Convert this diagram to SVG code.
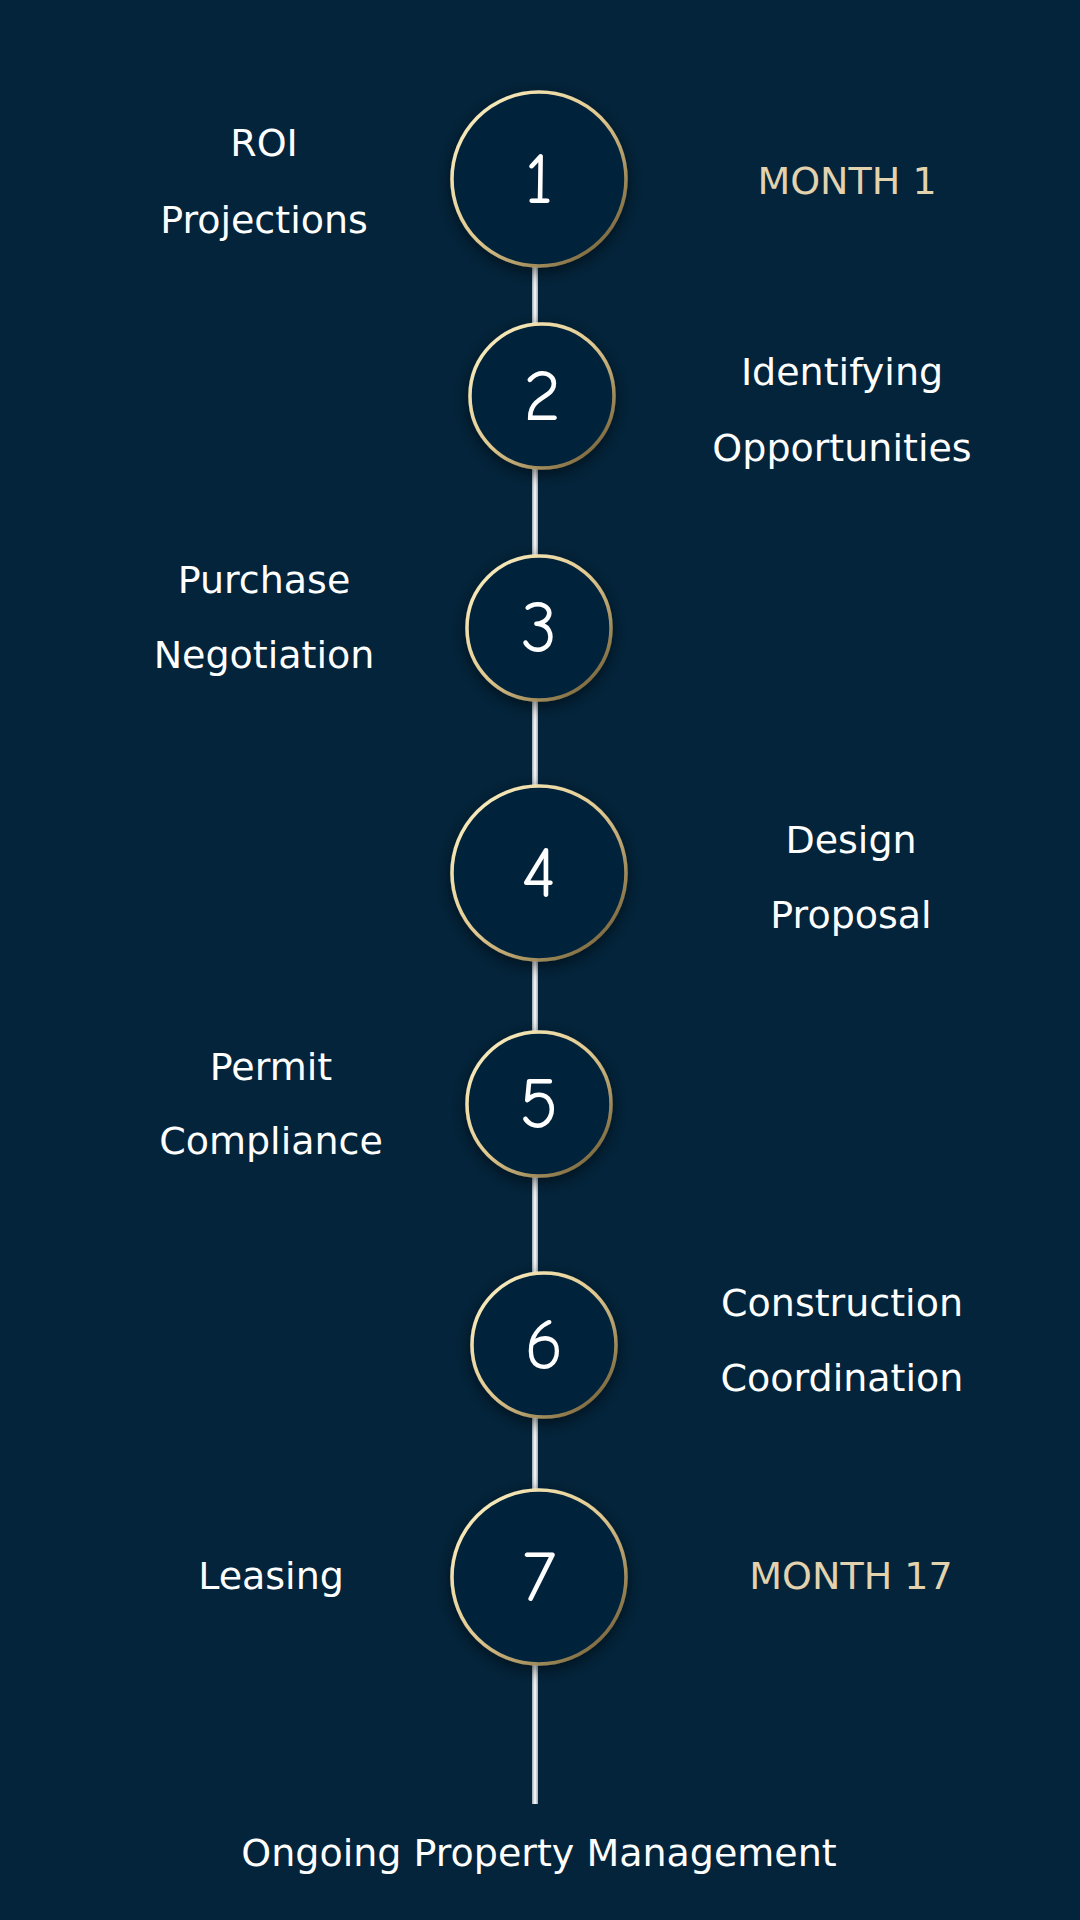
<svg xmlns="http://www.w3.org/2000/svg" width="1080" height="1920" viewBox="0 0 1080 1920">
<defs>
<linearGradient id="g" x1="0" y1="0" x2="1" y2="1"><stop offset="0" stop-color="#fff4c8"/><stop offset="0.5" stop-color="#e0c88e"/><stop offset="1" stop-color="#5e4c26"/></linearGradient>
<linearGradient id="lg" x1="0" y1="0" x2="1" y2="0"><stop offset="0" stop-color="#9aa6b0"/><stop offset="0.5" stop-color="#ffffff"/><stop offset="1" stop-color="#9aa6b0"/></linearGradient>
<filter id="sh" x="-30%" y="-30%" width="160%" height="160%"><feDropShadow dx="0" dy="4" stdDeviation="8" flood-color="#000" flood-opacity="0.55"/></filter>
</defs>
<style>
.c{fill:#03243b;stroke:url(#g);stroke-width:3.5;filter:url(#sh)}
.n{fill:#fff;font-family:"Comic Neue","DejaVu Sans",sans-serif;font-size:72px;text-anchor:middle;dominant-baseline:central}
.t{fill:#fff;font-family:"DejaVu Sans",sans-serif;font-size:38px;text-anchor:middle;dominant-baseline:central}
.m{fill:#e2d2ae}
</style>
<rect width="1080" height="1920" fill="#03243b"/>
<g id="connectors"><rect x="532" y="267" width="6" height="1537" fill="url(#lg)"/></g>
<g id="n1"><circle class="c" cx="539" cy="179" r="87"/><text class="n" x="539" y="179">1</text></g>
<g id="n2"><circle class="c" cx="542" cy="396" r="72"/><text class="n" x="542" y="396">2</text></g>
<g id="n3"><circle class="c" cx="539" cy="628" r="72"/><text class="n" x="539" y="628">3</text></g>
<g id="n4"><circle class="c" cx="539" cy="873" r="87"/><text class="n" x="539" y="873">4</text></g>
<g id="n5"><circle class="c" cx="539" cy="1104" r="72"/><text class="n" x="539" y="1104">5</text></g>
<g id="n6"><circle class="c" cx="544" cy="1345" r="72"/><text class="n" x="544" y="1345">6</text></g>
<g id="n7"><circle class="c" cx="539" cy="1577" r="87"/><text class="n" x="539" y="1577">7</text></g>
<g id="labels">
<text class="t" x="264" y="143">ROI</text><text class="t" x="264" y="220">Projections</text>
<text class="t m" x="847" y="181">MONTH 1</text>
<text class="t" x="842" y="372">Identifying</text><text class="t" x="842" y="448">Opportunities</text>
<text class="t" x="264" y="580">Purchase</text><text class="t" x="264" y="655">Negotiation</text>
<text class="t" x="851" y="840">Design</text><text class="t" x="851" y="915">Proposal</text>
<text class="t" x="271" y="1067">Permit</text><text class="t" x="271" y="1141">Compliance</text>
<text class="t" x="842" y="1303">Construction</text><text class="t" x="842" y="1378">Coordination</text>
<text class="t" x="271" y="1576">Leasing</text>
<text class="t m" x="851" y="1576">MONTH 17</text>
<text class="t" x="539" y="1853">Ongoing Property Management</text>
</g>
</svg>
